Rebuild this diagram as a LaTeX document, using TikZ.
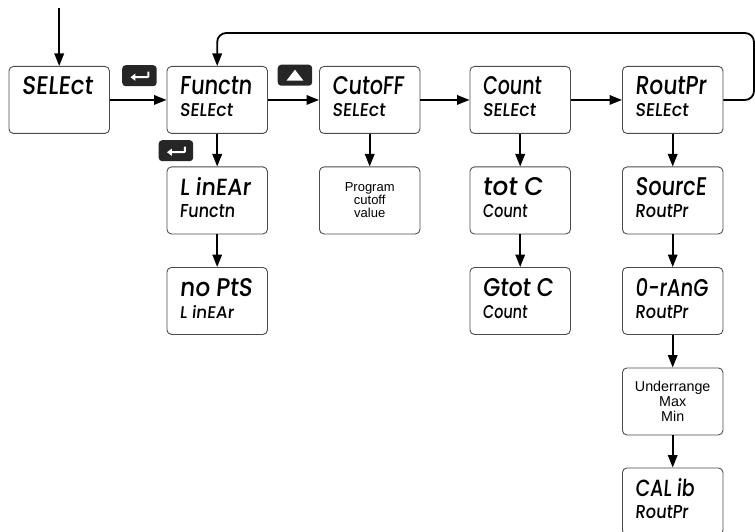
\documentclass[tikz,border=0pt]{standalone}
\usepackage{fontspec}
\usepackage{graphicx}
\setmainfont{Liberation Sans}
\newfontfamily\lcdfont[FakeSlant=0.1,BoldFont={Poppins Medium}]{Poppins Medium}
\usetikzlibrary{arrows.meta,calc}
\newcommand{\lcdbig}[2]{\resizebox{#1pt}{18pt}{\lcdfont\fontsize{22}{22}\selectfont #2}}
\newcommand{\lcdsmall}[2]{\resizebox{#1pt}{13pt}{\lcdfont\fontsize{16}{16}\selectfont #2}}
\tikzset{
  box/.style={draw=black!70,line width=0.9pt,rounded corners=4.5pt,minimum width=100.5pt,minimum height=67pt,inner sep=0pt,anchor=north west,fill=white},
  arial/.style={align=center,font=\fontsize{13}{13}\selectfont},
  arrow/.style={draw=black,line width=1.8pt,-{Triangle[length=12.5pt,width=9.5pt]}},
  key/.style={fill=black!85,rounded corners=3.5pt,minimum width=34.5pt,minimum height=21pt,inner sep=0pt,anchor=north west},
  topline/.style={anchor=base west,inner sep=0pt},
  subline/.style={anchor=base west,inner sep=0pt},
  keymark/.style={draw=white,line width=2pt},
}
\newcommand{\lcdnode}[5]{%
  \node[box] (#1) at (#2,#3) {};
  \node[topline] (#1t) at ([shift={(13,29)}]#1.north west) {#4};
  \ifx&#5&\else\node[subline] (#1s) at ([shift={(13,51)}]#1.north west) {#5};\fi
}
\begin{document}
\begin{tikzpicture}[x=1pt,y=-1pt]
\useasboundingbox (0,0) rectangle (755,532);
\lcdnode{sel}{8.5}{66}{\lcdbig{71}{SELEct}}{}
\lcdnode{fun}{166.5}{66}{\lcdbig{72}{Functn}}{\lcdsmall{53}{SELEct}}
\lcdnode{cut}{319}{66}{\lcdbig{71.5}{CutoFF}}{\lcdsmall{53}{SELEct}}
\lcdnode{cnt}{469.5}{66}{\lcdbig{58.5}{Count}}{\lcdsmall{53}{SELEct}}
\lcdnode{rou}{622}{66}{\lcdbig{71}{RoutPr}}{\lcdsmall{53}{SELEct}}
\lcdnode{lin}{166.5}{166.5}{\lcdbig{71}{L inEAr}}{\lcdsmall{55}{Functn}}
\lcdnode{npt}{166.5}{267}{\lcdbig{72.5}{no PtS}}{\lcdsmall{54}{L inEAr}}
\node[box] (pgm) at (319,166.5) {};
\node[arial] (pgmt) at (pgm.center) {Program\\cutoff\\value};
\lcdnode{tot}{469.5}{166.5}{\lcdbig{60}{tot C}}{\lcdsmall{44.5}{Count}}
\lcdnode{gto}{469.5}{267}{\lcdbig{70.5}{Gtot C}}{\lcdsmall{44.5}{Count}}
\lcdnode{sou}{622}{166.5}{\lcdbig{71}{SourcE}}{\lcdsmall{53}{RoutPr}}
\lcdnode{rng}{622}{267}{\lcdbig{72.7}{0-rAnG}}{\lcdsmall{53}{RoutPr}}
\node[box] (und) at (622,367.5) {};
\node[arial,font=\fontsize{14.3}{15}\selectfont] (undt) at (und.center) {Underrange\\Max\\Min};
\lcdnode{cal}{622}{467.5}{\lcdbig{59}{CAL ib}}{\lcdsmall{53}{RoutPr}}
\coordinate (start) at (sel.north |- 0,8);
\coordinate (loopa) at (754,33);
\draw[arrow] (start) -- (sel);
\draw[arrow] (sel) -- (fun);
\draw[arrow] (fun) -- (cut);
\draw[arrow] (cut) -- (cnt);
\draw[arrow] (cnt) -- (rou);
\draw[arrow] (fun) -- (lin);
\draw[arrow] (lin) -- (npt);
\draw[arrow] (cut) -- (pgm);
\draw[arrow] (cnt) -- (tot);
\draw[arrow] (tot) -- (gto);
\draw[arrow] (rou) -- (sou);
\draw[arrow] (sou) -- (rng);
\draw[arrow] (rng) -- (und);
\draw[arrow] (und) -- (cal);
\draw[arrow,rounded corners=9pt] (rou.east) -- (rou.east -| loopa) -- (loopa) -- (loopa -| fun.north) -- (fun.north);
\node[key] (ka) at (122,65) {};
\node[key] (kb) at (158.5,140) {};
\node[key] (kc) at (277.5,64.5) {};
\draw[keymark,-{Triangle[length=5pt,width=7pt]},rounded corners=1pt] ($(ka.center)+(9,-4)$) -- ($(ka.center)+(9,1.5)$) -- ($(ka.center)+(-9,1.5)$);
\draw[keymark,-{Triangle[length=5pt,width=7pt]},rounded corners=1pt] ($(kb.center)+(9,-4)$) -- ($(kb.center)+(9,1.5)$) -- ($(kb.center)+(-9,1.5)$);
\fill[white] ($(kc.center)+(-8.5,5.5)$) -- ($(kc.center)+(8.5,5.5)$) -- ($(kc.center)+(0,-5.5)$) -- cycle;
\end{tikzpicture}
\end{document}
